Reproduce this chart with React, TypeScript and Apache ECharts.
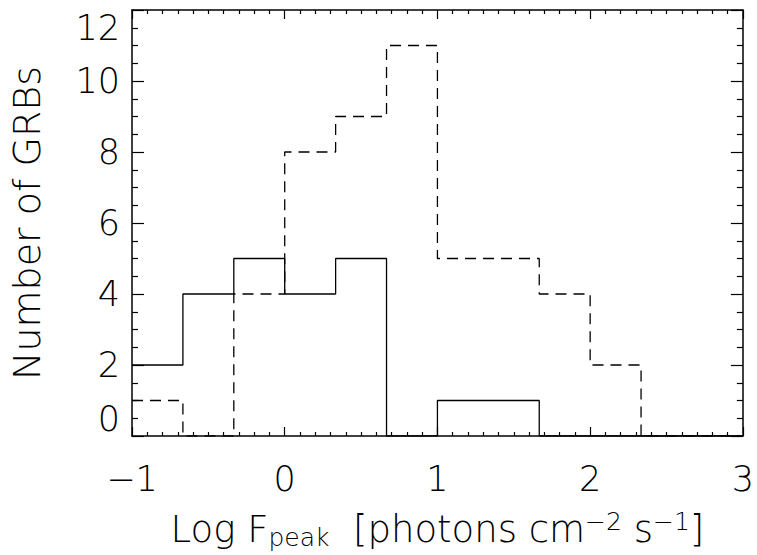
import React, { useEffect, useRef } from "react";
import * as echarts from "echarts";

// Bin left edges (log F_peak), width 1/3
const binEdges = [-1, -2 / 3, -1 / 3, 0, 1 / 3, 2 / 3, 1, 4 / 3, 5 / 3, 2, 7 / 3, 8 / 3, 3];
// Solid histogram counts per bin
const solidCounts = [2, 4, 5, 4, 5, 0, 1, 1, 0, 0, 0, 0];
// Dashed histogram counts per bin
const dashedCounts = [1, 0, 4, 8, 9, 11, 5, 5, 4, 2, 0, 0];

const FONT = "'DejaVu Sans ExtraLight', 'DejaVu Sans Light', Inter";
const FW = 200;

function stepData(counts: number[]) {
  const pts: [number, number][] = counts.map((c, i) => [binEdges[i], c]);
  pts.push([binEdges[binEdges.length - 1], counts[counts.length - 1]]);
  return pts;
}

export default function App() {
  const ref = useRef<HTMLDivElement>(null);
  useEffect(() => {
    if (!ref.current) return;
    const chart = echarts.init(ref.current, null, { renderer: "svg" });
    const axisCommon = {
      type: "value" as const,
      axisLine: { show: true, onZero: false, lineStyle: { color: "#000", width: 1.5 } },
      splitLine: { show: false },
    };
    chart.setOption({
      animation: false,
      backgroundColor: "#fff",
      grid: { left: 131, top: 10, right: 14, bottom: 113, containLabel: false },
      xAxis: [
        {
          ...axisCommon,
          position: "bottom",
          min: -1,
          max: 3,
          interval: 1,
          axisTick: { show: true, inside: true, length: 9, lineStyle: { color: "#000", width: 1.2 } },
          minorTick: { show: true, splitNumber: 10, length: 4, lineStyle: { color: "#000", width: 1.2 } },
          axisLabel: {
            show: true,
            margin: 25,
            fontFamily: FONT,
            fontWeight: FW,
            fontSize: 35,
            color: "#000",
            formatter: (v: number) => (v < 0 ? "\u2212" + Math.abs(v) : String(v)),
          },
          name: "{a|Log F}{sub|peak}{a|  [photons cm}{sup|\u22122}{a| s}{sup|\u22121}{a|]}",
          nameLocation: "middle",
          nameGap: 70,
          nameTextStyle: {
            rich: {
              a: { fontFamily: FONT, fontWeight: FW, fontSize: 37, color: "#000", lineHeight: 46, verticalAlign: "middle" },
              sub: { fontFamily: FONT, fontWeight: FW, fontSize: 25, color: "#000", padding: [17, 0, 0, 0], lineHeight: 46 },
              sup: { fontFamily: FONT, fontWeight: FW, fontSize: 25, color: "#000", padding: [0, 0, 15, 0], lineHeight: 46 },
            },
          },
        },
        {
          ...axisCommon,
          position: "top",
          min: -1,
          max: 3,
          interval: 1,
          axisTick: { show: true, inside: true, length: 9, lineStyle: { color: "#000", width: 1.2 } },
          minorTick: { show: true, splitNumber: 10, length: 4, lineStyle: { color: "#000", width: 1.2 } },
          axisLabel: { show: false },
        },
      ],
      yAxis: [
        {
          ...axisCommon,
          position: "left",
          min: 0,
          max: 12,
          interval: 2,
          axisTick: { show: true, inside: true, length: 12, lineStyle: { color: "#000", width: 1.2 } },
          minorTick: { show: true, splitNumber: 4, length: 6, lineStyle: { color: "#000", width: 1.2 } },
          axisLabel: {
            show: true,
            margin: 12,
            fontFamily: FONT,
            fontWeight: FW,
            fontSize: 35,
            color: "#000",
            verticalAlignMinLabel: "bottom",
            verticalAlignMaxLabel: "top",
          },
          name: "Number of GRBs",
          nameLocation: "middle",
          nameGap: 86,
          nameTextStyle: { fontFamily: FONT, fontWeight: FW, fontSize: 38, color: "#000" },
        },
        {
          ...axisCommon,
          position: "right",
          min: 0,
          max: 12,
          interval: 2,
          axisTick: { show: true, inside: true, length: 12, lineStyle: { color: "#000", width: 1.2 } },
          minorTick: { show: true, splitNumber: 4, length: 6, lineStyle: { color: "#000", width: 1.2 } },
          axisLabel: { show: false },
        },
      ],
      series: [
        {
          type: "line",
          name: "dashed",
          step: "end",
          data: stepData(dashedCounts),
          showSymbol: false,
          symbol: "none",
          lineStyle: { color: "#000", width: 1.3, type: [11, 7] },
          xAxisIndex: 0,
          yAxisIndex: 0,
        },
        {
          type: "line",
          name: "solid",
          step: "end",
          data: stepData(solidCounts),
          showSymbol: false,
          symbol: "none",
          lineStyle: { color: "#000", width: 1.3, type: "solid" },
          xAxisIndex: 0,
          yAxisIndex: 0,
        },
      ],
    });
    return () => chart.dispose();
  }, []);
  return <div ref={ref} style={{ width: 757, height: 555, position: "absolute", left: 0, top: 0 }} />;
}
